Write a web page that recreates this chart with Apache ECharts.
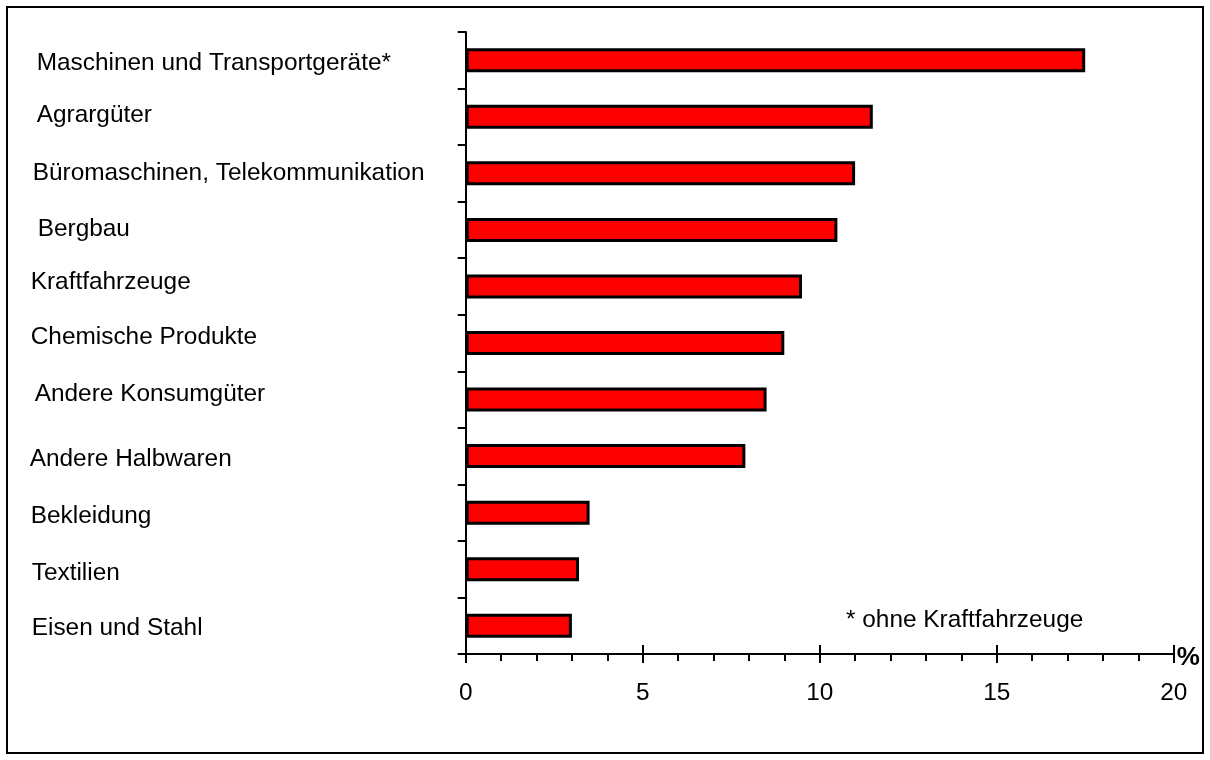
<!DOCTYPE html>
<html>
<head>
<meta charset="utf-8">
<script src="https://cdn.jsdelivr.net/npm/echarts@6/dist/echarts.min.js"></script>
<style>
html,body{margin:0;padding:0;background:#fff;}
#c{width:1210px;height:760px;}
</style>
</head>
<body>
<div id="c"></div>
<script>
var categories = ["Maschinen und Transportgeräte*", "Agrargüter", "Büromaschinen, Telekommunikation", "Bergbau", "Kraftfahrzeuge", "Chemische Produkte", "Andere Konsumgüter", "Andere Halbwaren", "Bekleidung", "Textilien", "Eisen und Stahl"];
var values = [17.5, 11.5, 11.0, 10.5, 9.5, 9.0, 8.5, 7.9, 3.5, 3.2, 3.0];
var xTicks = [0, 5, 10, 15, 20];
var footnote = "* ohne Kraftfahrzeuge";
var unitLabel = "%";

// per-label offsets (style only): [dx, dy]
var labelShift = [[7,3],[7,-2],[3,0],[8,-1],[1,-4],[1,-6],[5,-5],[0,3],[1,4],[2,4],[2,3]];
var font = 'Liberation Sans, Arial, sans-serif';
var rich = {};
labelShift.forEach(function (s, i) {
  var dy = s[1];
  rich['l' + i] = {
    fontFamily: font,
    fontSize: 24.4,
    color: '#000',
    padding: [dy > 0 ? dy * 2 : 0, 0, dy < 0 ? -dy * 2 : 0, s[0]]
  };
});

var chart = echarts.init(document.getElementById('c'), null, {renderer: 'canvas'});
chart.setOption({
  animation: false,
  backgroundColor: '#fff',
  grid: {left: 465.7, right: 36.3, top: 32, bottom: 106, containLabel: false},
  xAxis: [{
    type: 'value',
    min: xTicks[0], max: xTicks[xTicks.length - 1], interval: 5,
    position: 'bottom',
    name: unitLabel,
    nameLocation: 'end',
    nameGap: 3,
    nameTextStyle: {fontFamily: font, fontSize: 26, fontWeight: 'bold', color: '#000', verticalAlign: 'top', lineHeight: 8},
    axisLine: {show: true, lineStyle: {color: '#000', width: 2}},
    axisTick: {show: true, length: 9, lineStyle: {color: '#000', width: 2}},
    minorTick: {show: true, splitNumber: 5, length: 7, lineStyle: {color: '#000', width: 2}},
    splitLine: {show: false},
    axisLabel: {fontFamily: font, fontSize: 24.4, color: '#000', margin: 27}
  }, {
    type: 'value',
    min: xTicks[0], max: xTicks[xTicks.length - 1], interval: 5,
    position: 'bottom',
    axisLine: {show: false},
    axisTick: {show: true, inside: true, length: 9, lineStyle: {color: '#000', width: 2}},
    splitLine: {show: false},
    axisLabel: {show: false}
  }],
  yAxis: {
    type: 'category',
    data: categories,
    inverse: true,
    axisLine: {show: true, lineStyle: {color: '#000', width: 2}},
    axisTick: {show: true, length: 8, lineStyle: {color: '#000', width: 2}},
    splitLine: {show: false},
    axisLabel: {
      align: 'left',
      margin: 436,
      formatter: function (v, i) { return '{l' + i + '|' + v + '}'; },
      rich: rich
    }
  },
  series: [{
    type: 'bar',
    data: values,
    barWidth: 24,
    itemStyle: {color: '#ff0000', borderColor: '#000', borderWidth: 3},
    silent: true
  }],
  graphic: [{
    type: 'rect',
    shape: {x: 7, y: 7, width: 1196, height: 746},
    style: {fill: null, stroke: '#000', lineWidth: 2},
    silent: true
  }, {
    type: 'text',
    left: 846,
    top: 608,
    style: {text: footnote, font: '24.4px ' + font, fill: '#000'}
  }]
});
</script>
</body>
</html>
